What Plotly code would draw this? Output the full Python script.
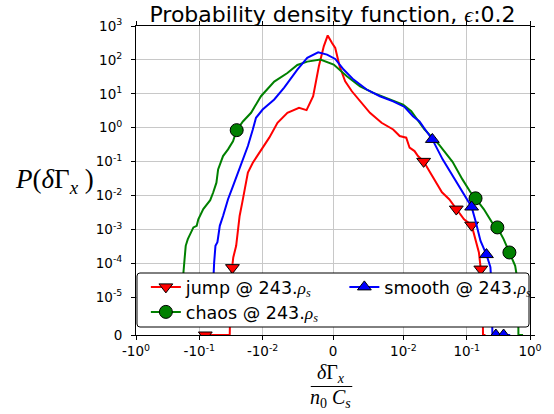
import numpy as np
import plotly.graph_objects as go

# ---------------- data (real units) ----------------
jump_x = [-0.0805, -0.0331, -0.0318, -0.0300, -0.0291, -0.0262, -0.0246, -0.0231, -0.0210,
          -0.0189, -0.0171, -0.0143, -0.0113, -0.00976, -0.00906, -0.00789, -0.00648,
          -0.00483, -0.00376, -0.00282, -0.00201, -0.00131, -0.00075, -0.00014, 0.00032,
          0.00094, 0.00173, 0.00268, 0.00385, 0.00525, 0.0069, 0.00855, 0.00948, 0.0111,
          0.01254, 0.01502, 0.0170, 0.0209, 0.0258, 0.0328, 0.0407, 0.0529, 0.0686, 0.0908,
          0.1197, 0.138, 0.156, 0.167, 0.178, 0.181, 0.198]
jump_y = [0, 0, 3.5e-5, 7.5e-5, 1.5e-4, 3.3e-4, 1.0e-3, 2.5e-3, 6.2e-3,
          0.019, 0.048, 0.093, 0.184, 0.29, 0.51, 1.40, 2.76,
          3.87, 3.30, 8.5, 65, 251, 527, 316, 225,
          65, 23.5, 11.9, 6.0, 2.76, 1.40, 0.89, 0.57, 0.51,
          0.258, 0.205, 0.146, 0.102, 0.052, 0.024, 0.0125, 7.8e-3, 4.0e-3, 2.0e-3,
          1.34e-3, 5.2e-4, 2.1e-4, 6.8e-5, 3.5e-5, 0, 0]
jump_marks = [0, 3, 37, 42, 44, 47]

chaos_x = [-0.181, -0.178, -0.171, -0.164, -0.152, -0.140, -0.124, -0.110, -0.1037, -0.0866,
           -0.0673, -0.0604, -0.0537, -0.0505, -0.0422, -0.0352, -0.0294, -0.0257, -0.0205,
           -0.01523, -0.01063, -0.00835, -0.00648, -0.00507, -0.00366, -0.00179, -0.00038,
           0.0001, 0.00197, 0.00385, 0.00573, 0.00807, 0.00996, 0.01334, 0.0160, 0.0215,
           0.0369, 0.0598, 0.0857, 0.1155, 0.138, 0.186, 0.252, 0.305, 0.383, 0.473, 0.583,
           0.649, 0.656, 0.777]
chaos_y = [1.5e-5, 5.5e-5, 1.34e-4, 3.3e-4, 5.2e-4, 7.3e-4, 1.15e-3, 1.28e-3, 2.0e-3, 4.0e-3,
           7.3e-3, 0.0123, 0.024, 0.059, 0.146, 0.23, 0.40, 0.85, 1.53,
           2.76, 8.5, 23, 41, 71, 89, 102, 81,
           73, 33, 16.7, 10.7, 6.8, 4.84, 3.08, 1.97, 0.89,
           0.312, 0.0986, 0.030, 0.0123, 8.3e-3, 4.0e-3, 1.6e-3, 1.15e-3, 5.2e-4, 2.1e-4, 8.5e-5,
           2.5e-5, 0, 0]
chaos_marks = [17, 40, 43, 45]

smooth_x = [-0.0615, -0.0604, -0.0583, -0.0556, -0.0518, -0.0505, -0.0475, -0.0422, -0.0352,
            -0.0294, -0.0246, -0.0205, -0.0171, -0.0143, -0.01273, -0.0100, -0.00835, -0.00694,
            -0.00507, -0.00366, -0.00211, -0.00085, 0.00032, 0.00151, 0.00292, 0.00479, 0.00666,
            0.00855, 0.01048, 0.0142, 0.0180, 0.0221, 0.0287, 0.0417, 0.0598, 0.0857, 0.1197,
            0.138, 0.1655, 0.2053, 0.237, 0.246, 0.255, 0.289, 0.328, 0.383, 0.487]
smooth_y = [1.3e-5, 5.5e-5, 1.07e-4, 3.3e-4, 4.2e-4, 5.8e-4, 1.28e-3, 2.5e-3, 7.8e-3,
            0.019, 0.048, 0.117, 0.29, 0.89, 1.97, 3.45, 6.8, 15.3,
            52, 115, 167, 143, 107, 52, 26.3, 13.4, 8.5,
            6.0, 4.1, 2.19, 1.53, 0.89, 0.453, 0.117, 0.038, 0.0123, 4.6e-3,
            1.79e-3, 4.6e-4, 1.82e-4, 7.8e-5, 2.5e-5, 0, 0, 0, 0, 0]
smooth_marks = [32, 36, 39, 43, 45]

x_tickvals = [-1.0, -0.1, -0.01, 0.0, 0.01, 0.1, 1.0]
x_ticktext = ["-10<sup>0</sup>", "-10<sup>-1</sup>", "-10<sup>-2</sup>", "0",
              "10<sup>-2</sup>", "10<sup>-1</sup>", "10<sup>0</sup>"]
y_tickvals = [0, 1e-5, 1e-4, 1e-3, 1e-2, 1e-1, 1.0, 10.0, 100.0, 1000.0]
y_ticktext = ["0", "10<sup>-5</sup>", "10<sup>-4</sup>", "10<sup>-3</sup>", "10<sup>-2</sup>",
              "10<sup>-1</sup>", "10<sup>0</sup>", "10<sup>1</sup>", "10<sup>2</sup>", "10<sup>3</sup>"]

LINTHRESH_X = 1e-2
LINTHRESH_Y = 1e-5


def symlog(v, linthresh, linscale=1.0, base=10.0):
    v = np.asarray(v, dtype=float)
    la = linscale / (1.0 - 1.0 / base)
    a = np.abs(v)
    logpart = la + np.log(np.maximum(a, linthresh) / linthresh) / np.log(base)
    return np.where(a <= linthresh, v / linthresh * la, np.sign(v) * logpart)


# ---------------- geometry ----------------
W, H = 554, 414
PL, PR, PT, PB = 136, 535, 26, 335


def pxx(p):
    return (p - PL) / (PR - PL)


def pxy(p):
    return (PB - p) / (PB - PT)


MATH = "font-family:Liberation Serif;font-style:italic"
rho = '<span style="%s">ρ<sub>s</sub></span>' % MATH

series = [
    ("jump @ 243." + rho, jump_x, jump_y, jump_marks, "#ff0000", "triangle-down", 12, "legend"),
    ("chaos @ 243." + rho, chaos_x, chaos_y, chaos_marks, "#008000", "circle", 13, "legend2"),
    ("smooth @ 243." + rho, smooth_x, smooth_y, smooth_marks, "#0000ff", "triangle-up", 12, "legend3"),
]

fig = go.Figure()
for name, xs, ys, marks, color, sym, msize, leg in series:
    tx = symlog(xs, LINTHRESH_X)
    ty = symlog(ys, LINTHRESH_Y)
    fig.add_trace(go.Scatter(x=tx, y=ty, mode="lines", line=dict(color=color, width=2),
                             showlegend=False, hoverinfo="skip"))
    fig.add_trace(go.Scatter(x=tx[marks], y=ty[marks], mode="markers",
                             marker=dict(symbol=sym, size=msize, color=color,
                                         line=dict(color="black", width=1)),
                             showlegend=False, hoverinfo="skip"))
    fig.add_trace(go.Scatter(x=[None], y=[None], mode="lines+markers", name=name,
                             line=dict(color=color, width=2),
                             marker=dict(symbol=sym, size=msize, color=color,
                                         line=dict(color="black", width=1)),
                             legend=leg))

axis_common = dict(showgrid=True, gridcolor="#c8c8c8", gridwidth=1, showline=True,
                   linecolor="black", linewidth=1, mirror="ticks", ticks="outside",
                   ticklen=4, tickwidth=1, tickcolor="black", zeroline=False,
                   tickfont=dict(family="DejaVu Sans", size=13.5, color="black"))

fig.update_xaxes(range=[float(symlog(-1.0, LINTHRESH_X)), float(symlog(1.0, LINTHRESH_X))],
                 tickmode="array", tickvals=symlog(x_tickvals, LINTHRESH_X), ticktext=x_ticktext,
                 **axis_common)
fig.update_yaxes(range=[0.0, float(symlog(1000.0, LINTHRESH_Y))],
                 tickmode="array", tickvals=symlog(y_tickvals, LINTHRESH_Y), ticktext=y_ticktext,
                 ticklabelstandoff=6, **axis_common)

leg_common = dict(bgcolor="rgba(0,0,0,0)", borderwidth=0, xanchor="left", yanchor="middle",
                  itemwidth=30, font=dict(family="DejaVu Sans", size=17.5, color="black"))

# legend frame (rounded rectangle)
x0, x1, y0, y1 = 137, 534, 273, 327
r = 3
rx = r / (PR - PL)
ry = r / (PB - PT)
X0, X1, Y0, Y1 = pxx(x0), pxx(x1), pxy(y1), pxy(y0)
path = (f"M{X0+rx},{Y0} L{X1-rx},{Y0} Q{X1},{Y0} {X1},{Y0+ry} L{X1},{Y1-ry} "
        f"Q{X1},{Y1} {X1-rx},{Y1} L{X0+rx},{Y1} Q{X0},{Y1} {X0},{Y1-ry} "
        f"L{X0},{Y0+ry} Q{X0},{Y0} {X0+rx},{Y0} Z")

fig.update_layout(
    width=W, height=H,
    margin=dict(l=PL, r=W - PR, t=PT, b=H - PB, pad=0),
    plot_bgcolor="white", paper_bgcolor="white",
    font=dict(family="DejaVu Sans", color="black"),
    title=dict(text='Probability density function, <span style="%s">ϵ</span>:0.2' % MATH,
               x=pxx(335), xanchor="center", xref="paper",
               y=1 - 14 / H, yanchor="middle", yref="container",
               font=dict(family="DejaVu Sans", size=22, color="black")),
    legend=dict(x=pxx(146), y=pxy(287), **leg_common),
    legend2=dict(x=pxx(146), y=pxy(312), **leg_common),
    legend3=dict(x=pxx(347), y=pxy(287), **leg_common),
    shapes=[
        dict(type="path", path=path, xref="paper", yref="paper", layer="above",
             fillcolor="white", line=dict(color="black", width=1)),
        dict(type="line", xref="paper", yref="paper", x0=pxx(313), x1=pxx(355),
             y0=pxy(386.5), y1=pxy(386.5), line=dict(color="black", width=1.2)),
    ],
    annotations=[
        dict(text='<span style="%s">P</span>(<span style="%s">δ</span>Γ<sub><span style="%s">x</span></sub> )'
             % (MATH, MATH, MATH),
             x=pxx(53), y=pxy(181), xref="paper", yref="paper", showarrow=False,
             xanchor="center", yanchor="middle",
             font=dict(family="Liberation Serif", size=27, color="black")),
        dict(text='<span style="%s">δ</span>Γ<sub><span style="%s">x</span></sub>' % (MATH, MATH),
             x=pxx(333), y=pxy(373), xref="paper", yref="paper", showarrow=False,
             xanchor="center", yanchor="middle",
             font=dict(family="Liberation Serif", size=20, color="black")),
        dict(text='<span style="%s">n</span><sub>0</sub> <span style="%s">C</span><sub><span style="%s">s</span></sub>'
             % (MATH, MATH, MATH),
             x=pxx(333), y=pxy(398), xref="paper", yref="paper", showarrow=False,
             xanchor="center", yanchor="middle",
             font=dict(family="Liberation Serif", size=20, color="black")),
    ],
)

fig.write_html("out.html")
